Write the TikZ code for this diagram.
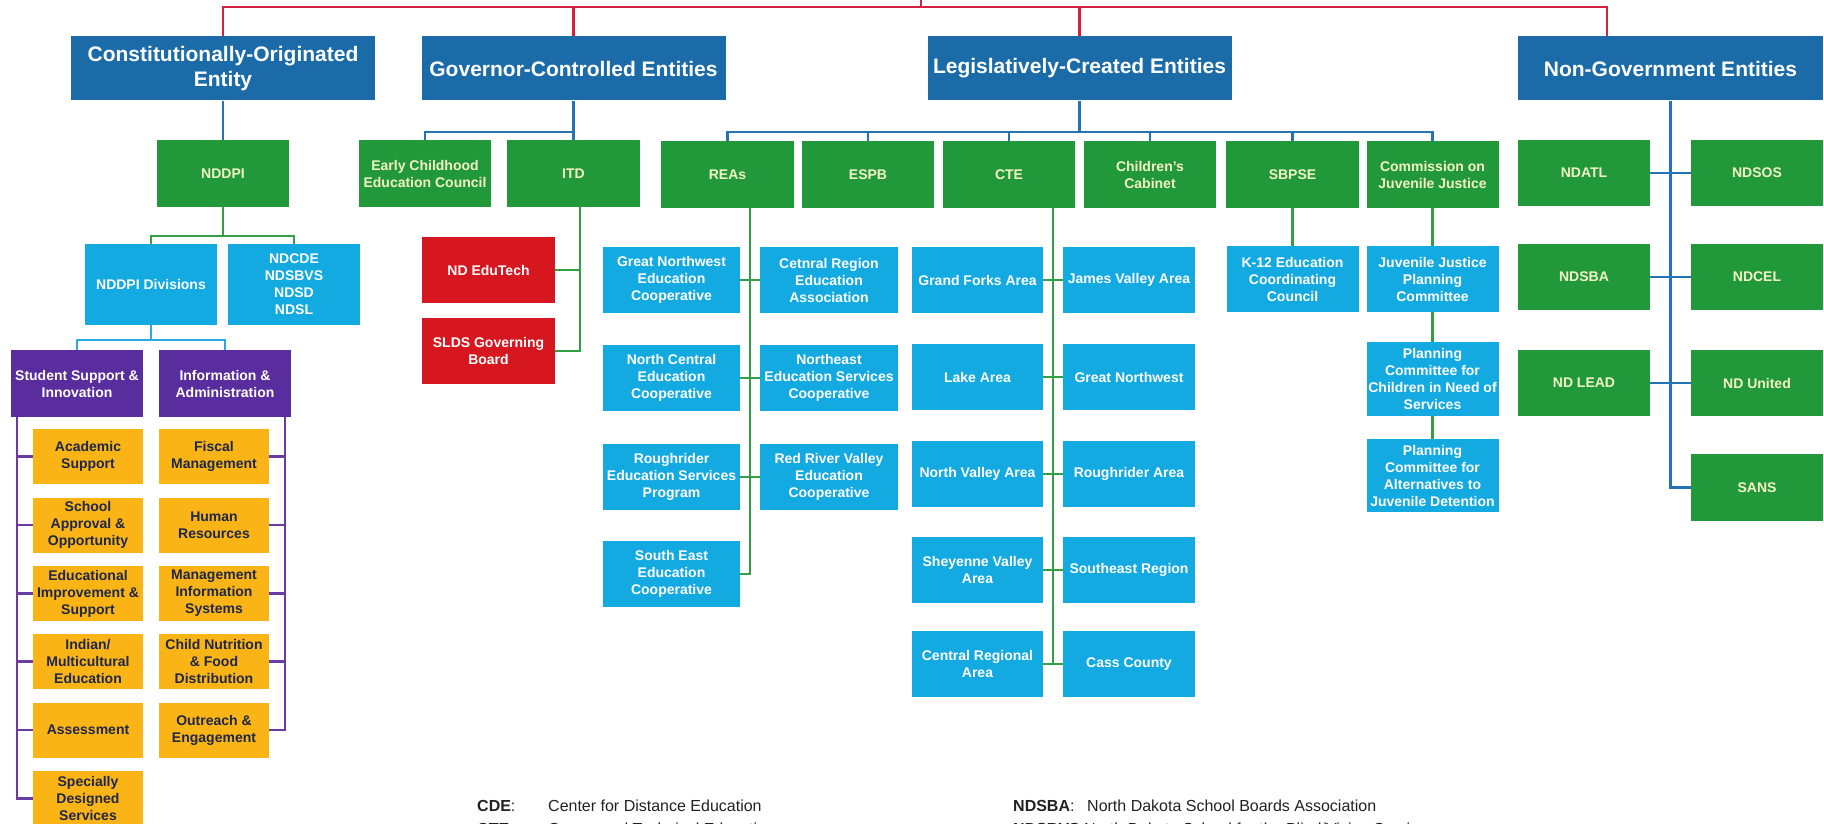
\documentclass[tikz,border=0pt]{standalone}
\usepackage{fontspec}
\setmainfont{Liberation Sans}
\definecolor{cDark}{HTML}{1A6BA8}
\definecolor{cGreen}{HTML}{21983A}
\definecolor{cLight}{HTML}{13A9E1}
\definecolor{cRed}{HTML}{D7171F}
\definecolor{cPurple}{HTML}{5A2D9E}
\definecolor{cOrange}{HTML}{FBB416}
\definecolor{cRedLine}{HTML}{D3213F}
\definecolor{cBlueLine}{HTML}{2474B5}
\definecolor{cGreenLine}{HTML}{34A046}
\definecolor{cLBLine}{HTML}{2BAAE2}
\definecolor{cPLine}{HTML}{6A3CA3}
\definecolor{cGText}{HTML}{F3F4C6}
\definecolor{cOText}{HTML}{1E2748}
\definecolor{cLegend}{HTML}{222222}
\newcommand{\myBig}{\fontsize{21}{25}\selectfont\bfseries}
\newcommand{\mySm}{\fontsize{14}{17}\selectfont\bfseries}
\newcommand{\myLg}{\fontsize{16}{20}\selectfont}
\tikzset{
  bx/.style={rectangle, inner sep=0pt, align=center},
  lvone/.style={bx, fill=cDark, text=white, font=\myBig, minimum width=304, minimum height=64},
  gbox/.style={bx, fill=cGreen, text=cGText, font=\mySm, minimum width=132, minimum height=66},
  lbox/.style={bx, fill=cLight, text=white, font=\mySm, minimum width=132, minimum height=66},
  rbox/.style={bx, fill=cRed, text=white, font=\mySm, minimum width=133, minimum height=66},
  pbox/.style={bx, fill=cPurple, text=white, font=\mySm, minimum width=132, minimum height=67},
  obox/.style={bx, fill=cOrange, text=cOText, font=\mySm, minimum width=110, minimum height=55},
  rline/.style={draw=cRedLine, line width=2.4},
  bline/.style={draw=cBlueLine, line width=2.2},
  gline/.style={draw=cGreenLine, line width=2.2},
  lbline/.style={draw=cLBLine, line width=2.2},
  pline/.style={draw=cPLine, line width=2.2},
  legt/.style={anchor=base west, inner sep=0pt, font=\myLg, text=cLegend}
}
\begin{document}
\begin{tikzpicture}[x=1pt,y=-1pt]
\path[fill=white] (0,0) rectangle (1824,824);
\useasboundingbox (0,0) rectangle (1824,824);
\clip (0,0) rectangle (1824,824);

% level 1
\node[lvone] (const) at (223,68.5) {Constitutionally-Originated\\Entity};
\node[lvone] (gov) at (573.5,68.5) {Governor-Controlled Entities};
\node[lvone] (leg) at (1079.5,68.5) {Legislatively-Created Entities};
\node[lvone, minimum width=305] (ngov) at (1670.5,68.5) {Non-Government Entities};

% level 2
\node[gbox] (nddpi) at (223,173.5) {NDDPI};
\node[gbox] (ecec) at (425,173.5) {Early Childhood\\Education Council};
\node[gbox, minimum width=133] (itd) at (573.5,173.5) {ITD};
\node[gbox, minimum width=133] (reas) at (727.5,174.5) {REAs};
\node[gbox] (espb) at (868,174.5) {ESPB};
\node[gbox] (cte) at (1009,174.5) {CTE};
\node[gbox] (cc) at (1150,174.5) {Children's\\Cabinet};
\node[gbox, minimum width=133] (sbpse) at (1292.5,174.5) {SBPSE};
\node[gbox] (cjj) at (1432.5,174.5) {Commission on\\Juvenile Justice};

% non-government
\node[gbox] (ndatl) at (1584,173) {NDATL};
\node[gbox] (ndsos) at (1757,173) {NDSOS};
\node[gbox] (ndsba) at (1584,277) {NDSBA};
\node[gbox] (ndcel) at (1757,277) {NDCEL};
\node[gbox] (ndlead) at (1584,383) {ND LEAD};
\node[gbox] (ndunited) at (1757,383) {ND United};
\node[gbox, minimum height=67] (sans) at (1757,487.5) {SANS};

% NDDPI children
\node[lbox, minimum height=81] (divs) at (151,284.5) {NDDPI Divisions};
\node[lbox, minimum height=81] (ndcde) at (294,284.5) {NDCDE\\NDSBVS\\NDSD\\NDSL};

% ITD children
\node[rbox] (edutech) at (488.5,270) {ND EduTech};
\node[rbox] (slds) at (488.5,351) {SLDS Governing\\Board};

% divisions
\node[pbox] (ss) at (77,383.5) {Student Support \&\\Innovation};
\node[pbox] (ia) at (225,383.5) {Information \&\\Administration};

\node[obox] (o1) at (88,456.5) {Academic\\Support};
\node[obox] (o2) at (88,525) {School\\Approval \&\\Opportunity};
\node[obox] (o3) at (88,593.5) {Educational\\Improvement \&\\Support};
\node[obox] (o4) at (88,661.5) {Indian/\\Multicultural\\Education};
\node[obox] (o5) at (88,730) {Assessment};
\node[obox] (o6) at (88,798.5) {Specially\\Designed\\Services};

\node[obox] (p1) at (214,456.5) {Fiscal\\Management};
\node[obox] (p2) at (214,525) {Human\\Resources};
\node[obox] (p3) at (214,593.5) {Management\\Information\\Systems};
\node[obox] (p4) at (214,661.5) {Child Nutrition\\\& Food\\Distribution};
\node[obox] (p5) at (214,730) {Outreach \&\\Engagement};

% REAs
\node[lbox, minimum width=137] (ra1) at (671.5,280) {Great Northwest\\Education\\Cooperative};
\node[lbox, minimum width=138] (rb1) at (829,280) {Cetnral Region\\Education\\Association};
\node[lbox, minimum width=137] (ra2) at (671.5,378) {North Central\\Education\\Cooperative};
\node[lbox, minimum width=138] (rb2) at (829,378) {Northeast\\Education Services\\Cooperative};
\node[lbox, minimum width=137] (ra3) at (671.5,477) {Roughrider\\Education Services\\Program};
\node[lbox, minimum width=138] (rb3) at (829,477) {Red River Valley\\Education\\Cooperative};
\node[lbox, minimum width=137] (ra4) at (671.5,574) {South East\\Education\\Cooperative};

% CTE areas
\node[lbox, minimum width=131] (ca1) at (977.5,280) {Grand Forks Area};
\node[lbox] (cb1) at (1129,280) {James Valley Area};
\node[lbox, minimum width=131] (ca2) at (977.5,377) {Lake Area};
\node[lbox] (cb2) at (1129,377) {Great Northwest};
\node[lbox, minimum width=131] (ca3) at (977.5,474) {North Valley Area};
\node[lbox] (cb3) at (1129,474) {Roughrider Area};
\node[lbox, minimum width=131] (ca4) at (977.5,570) {Sheyenne Valley\\Area};
\node[lbox] (cb4) at (1129,570) {Southeast Region};
\node[lbox, minimum width=131] (ca5) at (977.5,664) {Central Regional\\Area};
\node[lbox] (cb5) at (1129,664) {Cass County};

% SBPSE / CJJ
\node[lbox] (k12) at (1292.5,279) {K-12 Education\\Coordinating\\Council};
\node[lbox] (jjpc) at (1432.5,279) {Juvenile Justice\\Planning\\Committee};
\node[lbox, minimum height=74] (pcc) at (1432.5,379) {Planning\\Committee for\\Children in Need of\\Services};
\node[lbox, minimum height=73] (pca) at (1432.5,475.5) {Planning\\Committee for\\Alternatives to\\Juvenile Detention};

% ---------- connectors ----------
\coordinate (root) at (921,-5);
\coordinate (redbus) at (0,7);
\coordinate (ngovin) at (1607,36.5);
\draw[rline] (const.north) -- (const.north |- redbus) -| (ngovin);
\draw[rline] (gov.north) -- (gov.north |- redbus);
\draw[rline] (leg.north) -- (leg.north |- redbus);
\draw[rline] (root) -- (root |- redbus);

\coordinate (gbus) at (0,132);
\draw[bline] (const.south) -- (nddpi.north);
\draw[bline] (gov.south) -- (itd.north);
\draw[bline] (gov.south |- gbus) -| (ecec.north);
\draw[bline] (leg.south) -- (leg.south |- gbus);
\draw[bline] (reas.north) |- (cjj.north |- gbus) -- (cjj.north);
\foreach \n in {espb,cte,cc,sbpse} \draw[bline] (\n.north) -- (\n.north |- gbus);
\draw[bline] (ngov.south) -- (ngov.south |- sans.west) -- (sans.west);
\draw[bline] (ndatl.east) -- (ndsos.west);
\draw[bline] (ndsba.east) -- (ndcel.west);
\draw[bline] (ndlead.east) -- (ndunited.west);

\coordinate (dbus) at (0,236);
\draw[gline] (nddpi.south) -- (nddpi.south |- dbus);
\draw[gline] (divs.north) |- (nddpi.south |- dbus) -| (ndcde.north);

\coordinate (itdx) at (580,0);
\draw[gline] (itd.south -| itdx) -- (slds.east -| itdx) -- (slds.east);
\draw[gline] (edutech.east) -- (edutech.east -| itdx);

\coordinate (rx) at (750,0);
\draw[gline] (reas.south -| rx) -- (ra4.east -| rx) -- (ra4.east);
\draw[gline] (ra1.east) -- (rb1.west);
\draw[gline] (ra2.east) -- (rb2.west);
\draw[gline] (ra3.east) -- (rb3.west);

\coordinate (cx) at (1053,0);
\draw[gline] (cte.south -| cx) -- (ca5.east -| cx);
\foreach \i in {1,...,5} \draw[gline] (ca\i.east) -- (cb\i.west);

\draw[gline] (sbpse.south) -- (k12.north);
\draw[gline] (cjj.south) -- (jjpc.north);
\draw[gline] (jjpc.south) -- (pcc.north);
\draw[gline] (pcc.south) -- (pca.north);

\coordinate (pbus) at (0,340);
\draw[lbline] (divs.south) -- (divs.south |- pbus);
\draw[lbline] (ss.north) |- (divs.south |- pbus) -| (ia.north);

\coordinate (plx) at (17,0);
\coordinate (prx) at (285,0);
\draw[pline] (ss.south -| plx) -- (o6.west -| plx) -- (o6.west);
\foreach \i in {1,...,5} \draw[pline] (o\i.west) -- (o\i.west -| plx);
\draw[pline] (ia.south -| prx) -- (p5.east -| prx) -- (p5.east);
\foreach \i in {1,...,4} \draw[pline] (p\i.east) -- (p\i.east -| prx);

% legend
\node[legt] (lgA) at (477,811) {\textbf{CDE}:};
\node[legt] (lgAt) at (548,811) {Center for Distance Education};
\node[legt] (lgB) at (477,834) {\textbf{CTE}:};
\node[legt] (lgBt) at (548,834) {Career and Technical Education};
\node[legt] (lgC) at (1013,811) {\textbf{NDSBA}:};
\node[legt] (lgCt) at (1087,811) {North Dakota School Boards Association};
\node[legt] (lgD) at (1013,834) {\textbf{NDSBVS}:};
\node[legt] (lgDt) at (1084,834) {North Dakota School for the Blind/Vision Services};
\end{tikzpicture}
\end{document}
